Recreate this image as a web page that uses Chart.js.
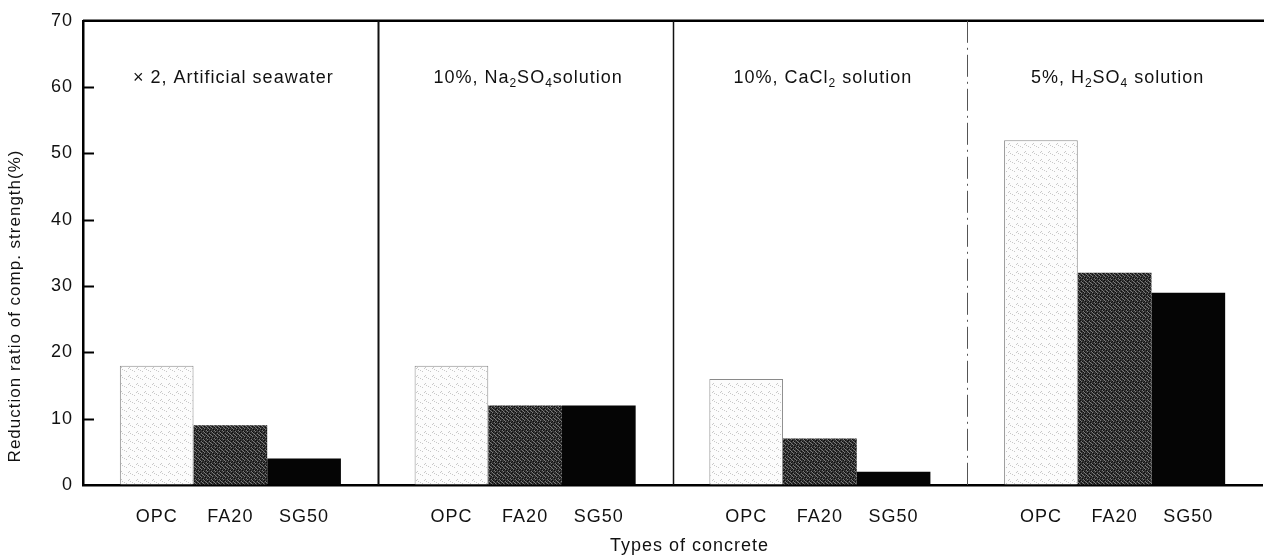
<!DOCTYPE html>
<html>
<head>
<meta charset="utf-8">
<script src="https://cdn.jsdelivr.net/npm/chart.js@4/dist/chart.umd.min.js"></script>
<style>
html, body { margin: 0; padding: 0; background: #fff; }
</style>
</head>
<body>
<canvas id="chart" width="1264" height="559"></canvas>
<script>
// data
var groups = ['Artificial seawater', 'Na2SO4', 'CaCl2', 'H2SO4'];
var concreteTypes = ['OPC', 'FA20', 'SG50'];
var opcValues = [18, 18, 16, 52];
var fa20Values = [9, 12, 7, 32];
var sg50Values = [4, 12, 2, 29];
var yTicks = [0, 10, 20, 30, 40, 50, 60, 70];

// panel captions, pieces of [text, isSubscript]
var panelLabels = [
  [['\u00d7 2, Artificial seawater', 0]],
  [['10%, Na', 0], ['2', 1], ['SO', 0], ['4', 1], ['solution', 0]],
  [['10%, CaCl', 0], ['2', 1], [' solution', 0]],
  [['5%, H', 0], ['2', 1], ['SO', 0], ['4', 1], [' solution', 0]]
];
var xTitle = 'Types of concrete';
var yTitle = 'Reduction ratio of comp. strength(%)';

var FONT = '"Liberation Sans", Arial, Helvetica, sans-serif';

// stipple fills like the printed bars
function makePattern(base, dots) {
  var c = document.createElement('canvas');
  c.width = 8; c.height = 8;
  var g = c.getContext('2d');
  g.fillStyle = base;
  g.fillRect(0, 0, 8, 8);
  for (var i = 0; i < dots.length; i++) {
    var d = dots[i];
    for (var x = 0; x < 8; x++) {
      for (var y = 0; y < 8; y++) {
        if ((x * d.a + y * d.b) % d.m == 0) {
          g.fillStyle = d.color;
          g.fillRect(x, y, 1, 1);
        }
      }
    }
  }
  return g.createPattern(c, 'repeat');
}

var ctx = document.getElementById('chart').getContext('2d');
var opcFill = makePattern('#fcfcfc', [{a: 5, b: 3, m: 13, color: '#c8c8c8'}]);
var faFill = makePattern('#333', [{a: 3, b: 5, m: 4, color: '#7a7a7a'}, {a: 1, b: 3, m: 5, color: '#0c0c0c'}]);
var sgFill = '#050505';

var overlay = {
  id: 'overlay',
  beforeDraw: function(chart) {
    // the printed lettering is a little wider than Arial
    chart.ctx.letterSpacing = '1px';
  },
  afterDraw: function(chart) {
    var c = chart.ctx;
    var area = chart.chartArea;
    var xs = chart.scales.x;
    var ys = chart.scales.y;
    c.save();

    // top frame line
    c.strokeStyle = '#000';
    c.lineWidth = 2.5;
    c.beginPath();
    c.moveTo(area.left, area.top);
    c.lineTo(chart.width, area.top);
    c.stroke();

    // panel dividers
    for (var i = 0; i < groups.length - 1; i++) {
      var x = Math.round((xs.getPixelForValue(i) + xs.getPixelForValue(i + 1)) / 2) + 0.5;
      c.beginPath();
      if (i == groups.length - 2) {
        c.setLineDash([22, 5, 2, 5]);
        c.lineWidth = 1;
        c.strokeStyle = '#555';
      } else {
        c.setLineDash([]);
        c.lineWidth = i == 0 ? 2 : 1.5;
        c.strokeStyle = '#111';
      }
      c.moveTo(x, area.top);
      c.lineTo(x, area.bottom);
      c.stroke();
    }
    c.setLineDash([]);

    // inward tick marks on the y axis
    c.strokeStyle = '#000';
    c.lineWidth = 2;
    for (var t = 1; t < yTicks.length - 1; t++) {
      var y = Math.round(ys.getPixelForValue(yTicks[t])) + 0.5;
      c.beginPath();
      c.moveTo(area.left, y);
      c.lineTo(area.left + 11, y);
      c.stroke();
    }

    c.letterSpacing = '1px';

    // bar labels under each bar
    c.fillStyle = '#111';
    c.font = '18px ' + FONT;
    c.textAlign = 'center';
    c.textBaseline = 'middle';
    for (var d = 0; d < chart.data.datasets.length; d++) {
      var meta = chart.getDatasetMeta(d);
      meta.data.forEach(function(bar) {
        c.fillText(concreteTypes[d], bar.x, area.bottom + 32);
      });
    }

    // axis titles
    c.font = '18px ' + FONT;
    c.fillText(xTitle, (area.left + area.right) / 2 + 17, chart.height - 13);
    c.save();
    c.translate(15, ys.getPixelForValue(27));
    c.rotate(-Math.PI / 2);
    c.font = '17px ' + FONT;
    c.fillText(yTitle, 0, 0);
    c.restore();

    // panel captions with subscripts
    var capY = ys.getPixelForValue(61.3);
    c.textAlign = 'left';
    c.textBaseline = 'middle';
    for (var p = 0; p < panelLabels.length; p++) {
      var parts = panelLabels[p];
      var total = 0;
      parts.forEach(function(part) {
        c.font = (part[1] ? '12px ' : '18px ') + FONT;
        total += c.measureText(part[0]).width;
      });
      var cx = xs.getPixelForValue(p) - total / 2 + 3;
      parts.forEach(function(part) {
        c.font = (part[1] ? '12px ' : '18px ') + FONT;
        c.fillText(part[0], cx, part[1] ? capY + 5 : capY);
        cx += c.measureText(part[0]).width;
      });
    }
    c.restore();
  }
};

new Chart(ctx, {
  type: 'bar',
  data: {
    labels: groups,
    datasets: [
      { label: concreteTypes[0], data: opcValues, backgroundColor: opcFill, borderColor: '#8a8a8a', borderWidth: 1 },
      { label: concreteTypes[1], data: fa20Values, backgroundColor: faFill, borderWidth: 0 },
      { label: concreteTypes[2], data: sg50Values, backgroundColor: sgFill, borderWidth: 0 }
    ]
  },
  options: {
    responsive: false,
    animation: false,
    layout: { padding: { top: 14, right: 2, left: 0, bottom: 0 } },
    plugins: {
      legend: { display: false },
      tooltip: { enabled: false }
    },
    datasets: {
      bar: { categoryPercentage: 0.75, barPercentage: 1 }
    },
    scales: {
      x: {
        grid: { display: false },
        border: { display: true, color: '#000', width: 2.5 },
        ticks: { display: false },
        afterFit: function(scale) { scale.height = 74; }
      },
      y: {
        min: 0,
        max: 70,
        ticks: { stepSize: 10, color: '#111', padding: 10, font: { family: FONT, size: 18 } },
        grid: { drawOnChartArea: false, drawTicks: false },
        border: { display: true, color: '#000', width: 2.5 },
        afterFit: function(scale) { scale.width = 83; }
      }
    }
  },
  plugins: [overlay]
});
</script>
</body>
</html>
